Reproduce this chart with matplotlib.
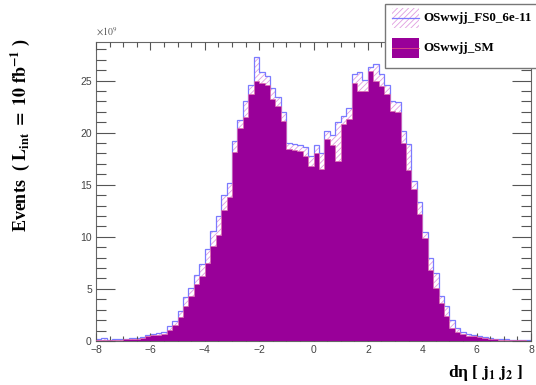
import numpy as np
import matplotlib
matplotlib.use("Agg")
import matplotlib.pyplot as plt
from matplotlib.patches import Rectangle
from matplotlib.lines import Line2D
from matplotlib.ticker import MultipleLocator

plt.rcParams['mathtext.fontset'] = 'stix'
plt.rcParams['hatch.linewidth'] = 0.6

# delta eta(j1, j2): 80 bins from -8 to 8
edges = np.linspace(-8, 8, 81)

# SM sample (units of 1e9 events)
sm = [
    0.10, 0.12, 0.08, 0.10, 0.12, 0.15, 0.18, 0.20, 0.30, 0.45,
    0.55, 0.60, 0.65, 1.05, 1.50, 2.30, 3.40, 4.30, 5.50, 6.20,
    7.50, 9.10, 10.2, 12.6, 13.8, 18.1, 20.4, 21.5, 23.7, 25.0,
    24.8, 24.6, 23.2, 22.6, 21.1, 18.4, 18.3, 18.2, 17.8, 16.8,
    18.0, 16.5, 19.4, 18.8, 17.3, 20.8, 21.3, 24.8, 24.0, 24.0,
    25.9, 25.0, 24.5, 23.7, 22.1, 22.0, 19.0, 16.4, 14.6, 12.2,
    9.90, 6.80, 5.10, 3.60, 2.40, 1.20, 0.90, 0.70, 0.50, 0.45,
    0.35, 0.25, 0.20, 0.15, 0.10, 0.10, 0.08, 0.05, 0.05, 0.03,
]

# FS0 = 6e-11 sample
fs0 = [
    0.15, 0.30, 0.12, 0.15, 0.20, 0.20, 0.25, 0.30, 0.40, 0.55,
    0.70, 0.75, 0.85, 1.40, 1.90, 2.90, 4.20, 5.10, 6.30, 7.40,
    8.80, 10.6, 12.0, 14.0, 15.2, 19.2, 21.2, 23.0, 24.6, 27.3,
    25.8, 25.4, 24.3, 23.4, 22.0, 19.0, 18.9, 18.8, 18.6, 17.8,
    18.8, 18.0, 20.2, 19.8, 21.0, 21.6, 22.4, 25.6, 25.8, 25.1,
    26.3, 26.6, 25.6, 24.6, 23.0, 22.9, 20.2, 18.9, 15.4, 13.3,
    10.5, 8.00, 6.50, 4.30, 3.40, 2.00, 1.20, 0.90, 0.65, 0.60,
    0.45, 0.35, 0.30, 0.20, 0.15, 0.15, 0.10, 0.08, 0.06, 0.05,
]

W, H = 536, 385
fig = plt.figure(figsize=(W / 100, H / 100), dpi=100)
ax = fig.add_axes([96 / W, 44 / H, 435 / W, 299 / H])

hatch_col = '#e09ce0'
line_blue = '#7b7bff'
purple = '#990099'
sm_edge = '#e070b0'

# BSM: hatched fill with blue outline
ax.stairs(fs0, edges, fill=True, facecolor='white', edgecolor=hatch_col,
          hatch='//////', linewidth=0, zorder=1)
ax.stairs(fs0, edges, color=line_blue, linewidth=0.9, zorder=2)
# SM: solid purple on top
ax.stairs(sm, edges, fill=True, facecolor=purple, edgecolor=sm_edge,
          linewidth=0.5, zorder=3)

ax.set_xlim(-8, 8)
ax.set_ylim(0, 28.7)
ax.xaxis.set_major_locator(MultipleLocator(2))
ax.xaxis.set_minor_locator(MultipleLocator(0.5))
ax.yaxis.set_major_locator(MultipleLocator(5))
ax.yaxis.set_minor_locator(MultipleLocator(1))
ax.tick_params(which='both', direction='in', top=True, right=True,
               colors='#555555', labelcolor='#444444', labelsize=7.5,
               width=0.8)
ax.tick_params(axis='y', which='major', length=14, pad=3)
ax.tick_params(axis='y', which='minor', length=7)
ax.tick_params(axis='x', which='major', length=6, pad=3)
ax.tick_params(axis='x', which='minor', length=3.5)
for lab in ax.get_xticklabels() + ax.get_yticklabels():
    lab.set_family('Liberation Sans')
for sp in ax.spines.values():
    sp.set_color('#666666')
    sp.set_linewidth(0.8)
ax.set_axisbelow(False)

# exponent of the y axis
fig.text(96 / W, 1 - 38 / H, r'$\times10^{9}$', fontsize=7, color='#555555',
         ha='left', va='bottom')

# axis titles
fig.text(20 / W, 1 - 38 / H,
         r'Events  ( $\mathbf{L_{int}\ =\ 10\ fb^{-1}}$ )',
         rotation=90, ha='center', va='top', family='Liberation Serif',
         weight='bold', fontsize=13)
fig.text(523 / W, 1 - 377 / H, r'dη [ $\mathbf{j_{1}\ j_{2}}$ ]',
         ha='right', va='baseline', family='Liberation Serif',
         weight='bold', fontsize=12.5)

# legend box
def px(x, y):
    return x / W, 1 - y / H

tf = fig.transFigure
box = Rectangle(px(385, 68), 200 / W, 64 / H, transform=tf,
                facecolor='white', edgecolor='#777777', linewidth=1.0,
                zorder=10)
fig.add_artist(box)

e1 = Rectangle(px(392, 28), 27 / W, 20 / H, transform=tf, facecolor='white',
               edgecolor=hatch_col, hatch='//////', linewidth=0, zorder=11)
fig.add_artist(e1)
fig.add_artist(Line2D([392 / W, 419 / W], [1 - 18 / H, 1 - 18 / H],
                      transform=tf, color=line_blue, linewidth=0.9, zorder=12))
e2 = Rectangle(px(392, 58), 27 / W, 20 / H, transform=tf, facecolor=purple,
               edgecolor='none', zorder=11)
fig.add_artist(e2)
fig.add_artist(Line2D([392 / W, 419 / W], [1 - 48 / H, 1 - 48 / H],
                      transform=tf, color='#e05080', linewidth=0.6, zorder=12))

fig.text(423 / W, 1 - 18 / H, 'OSwwjj_FS0_6e-11', ha='left', va='center',
         family='Liberation Serif', weight='bold', fontsize=9.4, zorder=12)
fig.text(423 / W, 1 - 48 / H, 'OSwwjj_SM', ha='left', va='center',
         family='Liberation Serif', weight='bold', fontsize=9.4, zorder=12)

fig.savefig('out.png', dpi=100)
